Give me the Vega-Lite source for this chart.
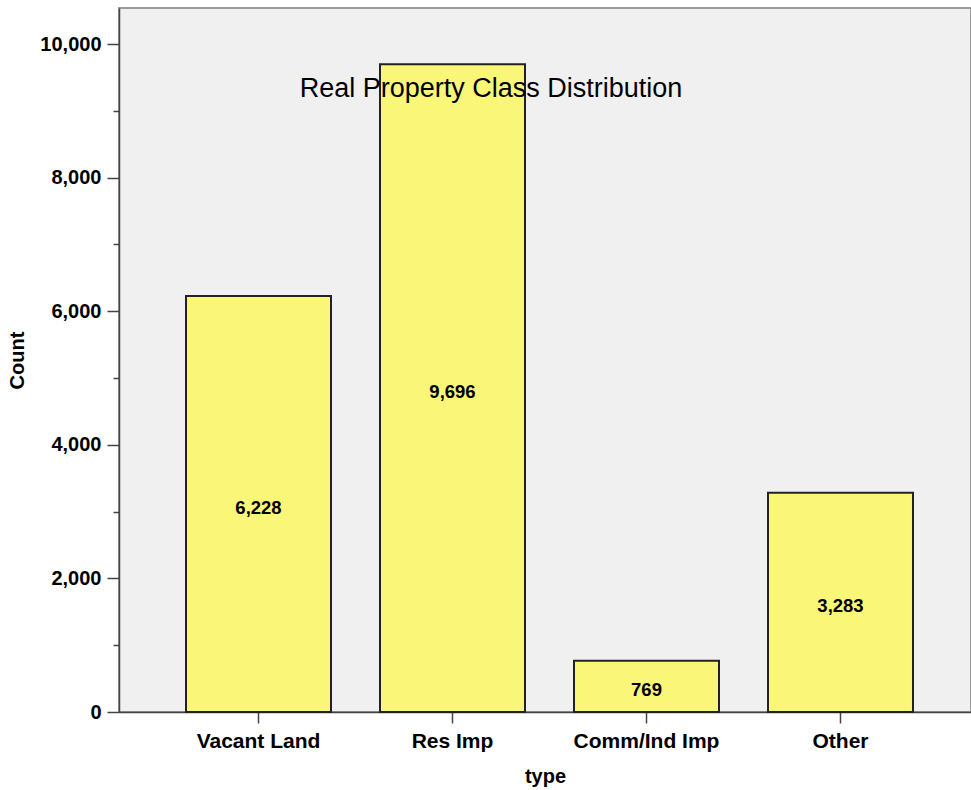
{
  "$schema": "https://vega.github.io/schema/vega-lite/v6.json",
  "width": 852,
  "height": 704,
  "autosize": {"type": "none"},
  "padding": {"left": 119, "top": 8, "right": 0, "bottom": 78},
  "background": "#ffffff",
  "title": {
    "text": "Real Property Class Distribution",
    "orient": "top",
    "anchor": "middle",
    "offset": 0,
    "baseline": "alphabetic",
    "dx": -54,
    "dy": 116,
    "font": "Liberation Sans",
    "fontSize": 27,
    "fontWeight": "normal",
    "color": "#000000"
  },
  "config": {
    "view": {"fill": "#f0f0f0", "stroke": "#9a9a9a", "strokeWidth": 2},
    "axis": {
      "labelFont": "Liberation Sans",
      "titleFont": "Liberation Sans",
      "labelFontWeight": "bold",
      "titleFontWeight": "bold",
      "labelColor": "#000000",
      "titleColor": "#000000",
      "domainColor": "#444444",
      "tickColor": "#444444",
      "domainWidth": 1.5,
      "tickWidth": 1.5,
      "grid": false
    }
  },
  "data": {
    "values": [
      {"type": "Vacant Land", "count": 6228},
      {"type": "Res Imp", "count": 9696},
      {"type": "Comm/Ind Imp", "count": 769},
      {"type": "Other", "count": 3283}
    ]
  },
  "encoding": {
    "x": {
      "field": "type",
      "type": "nominal",
      "sort": null,
      "scale": {"paddingInner": 0.2526, "paddingOuter": 0.3222, "align": 0.536},
      "axis": {
        "title": "type",
        "labelAngle": 0,
        "labelFontSize": 21,
        "titleFontSize": 20,
        "tickSize": 11,
        "labelPadding": 7,
        "titlePadding": 15
      }
    }
  },
  "layer": [
    {
      "mark": {"type": "bar", "fill": "#faf678", "stroke": "#222222", "strokeWidth": 2},
      "encoding": {
        "y": {
          "field": "count",
          "type": "quantitative",
          "scale": {"domain": [0, 10540], "nice": false},
          "axis": {
            "title": "Count",
            "values": [0, 1000, 2000, 3000, 4000, 5000, 6000, 7000, 8000, 9000, 10000],
            "labelExpr": "datum.value % 2000 === 0 ? format(datum.value, ',') : ''",
            "tickSize": {"condition": {"test": "datum.value % 2000 === 0", "value": 12}, "value": 6},
            "labelFontSize": 20,
            "titleFontSize": 20,
            "labelPadding": 6,
            "titlePadding": 12
          }
        }
      }
    },
    {
      "transform": [{"calculate": "datum.count / 2", "as": "labelPos"}],
      "mark": {"type": "text", "font": "Liberation Sans", "fontWeight": "bold", "fontSize": 18.5, "baseline": "middle", "align": "center", "dy": 4, "color": "#000000"},
      "encoding": {
        "y": {"field": "labelPos", "type": "quantitative"},
        "text": {"field": "count", "type": "quantitative", "format": ","}
      }
    }
  ]
}
